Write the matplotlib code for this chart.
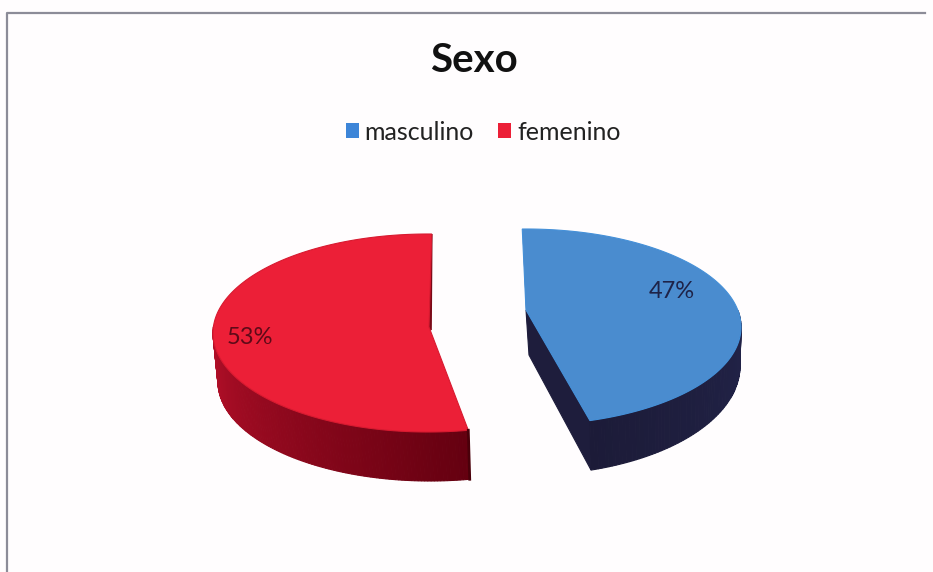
import matplotlib
matplotlib.use("Agg")
import matplotlib.pyplot as plt
import numpy as np
from matplotlib.patches import Patch, Polygon

categories = ["masculino", "femenino"]
values = [47, 53]
value_labels = ["47%", "53%"]

plt.rcParams["font.family"] = ["Lato", "DejaVu Sans"]

BLUE = "#4a8ccf"
RED = "#ec1f37"


def rim(theta, cx, cy, rx, ry):
    # clockwise from the top of the ellipse
    t = np.radians(theta)
    return np.column_stack([cx + rx * np.sin(t), cy - ry * np.cos(t)])


def shade_strip(ax, top, bottom, colors):
    # side wall as narrow quads so the colour can run along the arc
    for i in range(len(top) - 1):
        quad = [top[i], top[i + 1], bottom[i + 1], bottom[i]]
        ax.add_patch(Polygon(quad, closed=True, fc=colors[i], ec=colors[i], lw=0.8, zorder=2))


def ramp(c0, c1, n):
    c0 = np.array(matplotlib.colors.to_rgb(c0))
    c1 = np.array(matplotlib.colors.to_rgb(c1))
    return [tuple(c0 + (c1 - c0) * f) for f in np.linspace(0, 1, n)]


fig = plt.figure(figsize=(9.33, 5.72), dpi=100, facecolor="#fffdfe")
ax = fig.add_axes([0, 0, 1, 1])
ax.set_xlim(0, 933)
ax.set_ylim(572, 0)
ax.axis("off")

# frame: only the left and top edges show on the sheet
ax.plot([7, 7, 925], [600, 13, 13], color="#8c8c98", lw=1.6, zorder=1)

ax.text(474, 61, "Sexo", ha="center", va="center", fontsize=29, fontweight="bold", color="#111111")

sweep = np.array(values) / sum(values) * 360
edges = np.concatenate([[0], np.cumsum(sweep)])

# masculino: starts at the top and goes clockwise
th = np.linspace(edges[0], edges[1], 160)
th = th - 1 - 5.5 * th / edges[1]
top = rim(th, 526, 327, 215, 98)
apex = (526, 310)
base = rim(th, 528, 366, 212, 109)
base_apex = (529, 355)
ax.add_patch(Polygon([apex, top[-1], base[-1], base_apex], closed=True, fc="#1e1d3c", ec="#1e1d3c", lw=0.8, zorder=2))
ax.add_patch(Polygon([top[0], apex, base_apex], closed=True, fc="#1e1d3c", ec="none", zorder=2))
vis = th > 80
shade_strip(ax, top[vis], base[vis], ramp("#22244a", "#1c1b38", vis.sum()))
ax.add_patch(Polygon(np.vstack([[apex], top]), closed=True, fc=BLUE, ec="#4590d8", lw=0.8, zorder=3))

# femenino: the rest of the circle
th = np.linspace(edges[1], edges[2] + 1, 220)
top = rim(th, 428, 333, 215, 99)
apex = (429, 327)
base = rim(th, 430, 382, 212, 99)
vis = th < 275
shade_strip(ax, top[vis][::-1], base[vis][::-1], ramp("#b8102a", "#640010", vis.sum()))
ax.add_patch(Polygon([top[-1], apex, (431, 330)], closed=True, fc="#7a0a18", ec="#7a0a18", lw=1.2, zorder=2))
ax.add_patch(Polygon(np.vstack([[apex], top]), closed=True, fc=RED, ec="#d81a30", lw=0.8, zorder=3))
ax.plot([top[0][0], base[0][0]], [top[0][1], base[0][1]], color="#4a000a", lw=2, zorder=3)

ax.text(672, 292, value_labels[0], ha="center", va="center", fontsize=17, color="#1e2348", zorder=4)
ax.text(250, 338, value_labels[1], ha="center", va="center", fontsize=17, color="#5e0a18", zorder=4)

handles = [Patch(fc="#3d85d8", ec="none"), Patch(fc=RED, ec="none")]
ax.legend(
    handles,
    categories,
    loc="center",
    bbox_to_anchor=(483 / 933, 1 - 132 / 572),
    ncols=2,
    frameon=False,
    fontsize=18,
    handlelength=0.52,
    handleheight=0.52,
    handletextpad=0.22,
    columnspacing=1.0,
    labelcolor="#222222",
)

fig.savefig("out.png", dpi=100, facecolor=fig.get_facecolor())
